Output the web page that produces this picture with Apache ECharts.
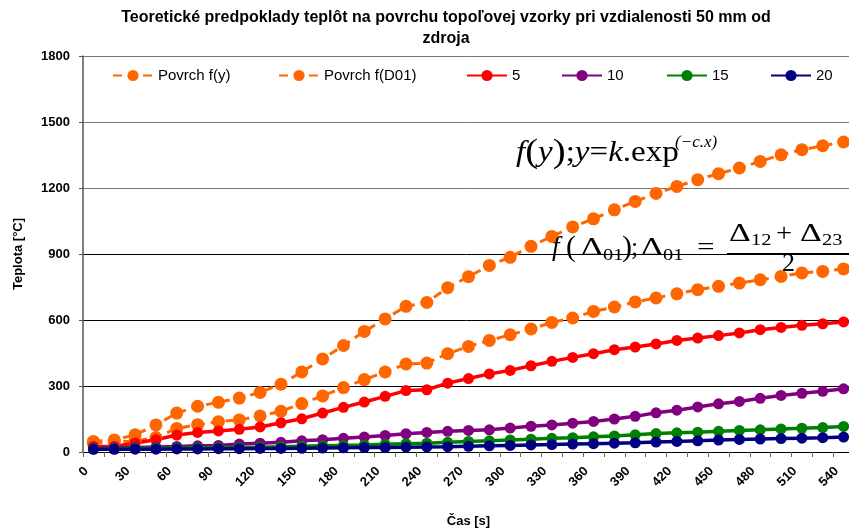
<!DOCTYPE html>
<html>
<head>
<meta charset="utf-8">
<script src="https://cdn.jsdelivr.net/npm/echarts@6/dist/echarts.min.js"></script>
<style>
html, body { margin: 0; padding: 0; background: #fff; }
#chart { width: 849px; height: 529px; }
</style>
</head>
<body>
<div id="chart"></div>
<script>
// Time steps [s]
const times = ['0','15','30','45','60','75','90','105','120','135','150','165','180','195','210','225','240','255','270','285','300','315','330','345','360','375','390','405','420','435','450','465','480','495','510','525','540'];

// Surface temperature, f(y) fit [°C]
const povrchFy = [48,55,78,123,177,208,226,245,271,308,364,423,484,548,605,662,680,747,797,848,885,935,980,1023,1060,1101,1139,1175,1207,1238,1265,1291,1321,1351,1374,1392,1409];
// Surface temperature, f(D01) estimate [°C]
const povrchFD01 = [40,45,50,66,107,124,138,146,164,185,220,255,293,329,364,400,404,447,480,507,533,559,589,609,639,659,682,700,719,738,753,768,783,798,814,821,832];
// Measured temperatures at depths 5, 10, 15, 20 mm [°C]
const depth5 = [25,25,41,56,77,89,96,103,114,133,151,177,203,227,253,279,283,313,334,355,371,392,412,430,447,465,477,491,507,518,529,541,556,566,576,583,591];
const depth10 = [18,19,21,23,25,28,30,36,40,44,51,56,62,68,75,83,89,94,98,101,109,117,123,131,139,150,162,178,190,205,219,230,244,257,267,276,287];
const depth15 = [14,15,16,17,18,19,20,21,22,24,26,28,30,32,35,38,40,44,48,51,55,58,62,65,69,73,78,84,87,90,94,98,101,105,108,111,116];
const depth20 = [12,12,13,13,14,14,15,15,16,16,17,18,19,20,21,22,23,24,26,28,30,32,34,36,38,40,42,45,48,51,54,57,59,61,63,65,68];

// Y axis ticks
const yMin = 0, yMax = 1800, yStep = 300;

const seriesNames = ['Povrch f(y)', 'Povrch f(D01)', '5', '10', '15', '20'];
const seriesData = [povrchFy, povrchFD01, depth5, depth10, depth15, depth20];
const seriesColors = ['#FF6600', '#FF6600', '#FF0000', '#800080', '#008000', '#000080'];

const SANS = '"Liberation Sans", Arial, sans-serif';
const SERIF = '"Liberation Serif", "Times New Roman", serif';

const chart = echarts.init(document.getElementById('chart'), null, { renderer: 'canvas' });

const series = seriesNames.map((name, i) => {
  const dashed = i < 2;
  return {
    name: name,
    type: 'line',
    data: seriesData[i],
    symbol: 'circle',
    symbolSize: dashed ? 13 : 11,
    showSymbol: true,
    lineStyle: { color: seriesColors[i], width: dashed ? 3 : 3.5, type: dashed ? [9, 6] : 'solid' },
    itemStyle: { color: seriesColors[i], borderWidth: 0 },
    emphasis: { disabled: true },
    animation: false
  };
});

// Legend entries placed in one row across the top of the plot
const legendLefts = [112, 278, 466, 561, 666, 770];
const legends = seriesNames.map((name, i) => ({
  data: [name],
  left: legendLefts[i],
  top: 68,
  padding: 0,
  itemWidth: 40,
  itemHeight: 14,
  itemGap: 0,
  textStyle: { fontFamily: SANS, fontSize: 15, color: '#000' },
  selectedMode: false
}));

// Formula annotations
function txt(x, y, text, size, opts) {
  opts = opts || {};
  return {
    type: 'text', x: x, y: y, z: 50,
    scaleX: opts.sx || 1,
    style: {
      text: text,
      font: (opts.italic ? 'italic ' : '') + size + 'px ' + SERIF,
      fill: '#000',
      align: 'left',
      verticalAlign: 'middle'
    }
  };
}
const graphics = [
  // f(y); y = k.exp^(-c.x)
  {
    type: 'text', x: 516, y: 153, z: 50, scaleX: 1.14,
    style: {
      text: '{i|f}{p|(}{i|y}{p|)}{n|;}{i|y}{n|=}{i|k}{n|.exp}',
      fill: '#000', align: 'left', verticalAlign: 'middle',
      rich: {
        i: { fontFamily: SERIF, fontSize: 29, fontStyle: 'italic', fill: '#000' },
        n: { fontFamily: SERIF, fontSize: 29, fill: '#000' },
        p: { fontFamily: SERIF, fontSize: 34, fill: '#000' }
      }
    }
  },
  txt(675, 143, '(\u2212c.x)', 17, { italic: true }),
  // f(Δ01); Δ01 = (Δ12 + Δ23) / 2
  txt(552, 248, 'f', 27, { italic: true }),
  txt(566, 248, '(', 30),
  txt(581, 248, '\u0394', 26, { sx: 1.3 }),
  txt(603, 256, '01', 17, { sx: 1.2 }),
  txt(622, 248, ')', 30),
  txt(631, 248, ';', 26),
  txt(641, 248, '\u0394', 26, { sx: 1.3 }),
  txt(663, 256, '01', 17, { sx: 1.2 }),
  txt(697, 248, '=', 26, { sx: 1.2 }),
  txt(729, 234, '\u0394', 26, { sx: 1.3 }),
  txt(751, 241, '12', 17, { sx: 1.2 }),
  txt(776, 234, '+', 26, { sx: 1.1 }),
  txt(800, 234, '\u0394', 26, { sx: 1.3 }),
  txt(822, 241, '23', 17, { sx: 1.2 }),
  { type: 'line', z: 50, shape: { x1: 727, y1: 253.5, x2: 849, y2: 253.5 }, style: { stroke: '#000', lineWidth: 1 } },
  txt(782, 264, '2', 26)
];

const option = {
  animation: false,
  backgroundColor: '#fff',
  title: {
    text: 'Teoretické predpoklady teplôt na povrchu topoľovej vzorky pri vzdialenosti 50 mm od\nzdroja',
    left: 446,
    textAlign: 'center',
    top: 7,
    padding: 0,
    textStyle: { fontFamily: SANS, fontSize: 16, fontWeight: 'bold', color: '#000', lineHeight: 21 }
  },
  legend: legends,
  grid: { left: 83, top: 56, width: 771, height: 396, containLabel: false, outerBoundsMode: 'none' },
  xAxis: {
    type: 'category',
    data: times,
    boundaryGap: true,
    name: 'Čas [s]',
    nameLocation: 'middle',
    nameGap: 63,
    nameTextStyle: { fontFamily: SANS, fontSize: 13, fontWeight: 'bold', color: '#000' },
    axisLine: { show: true, lineStyle: { color: '#000', width: 1 } },
    axisTick: { show: true, interval: 0, length: 5, lineStyle: { color: '#666' } },
    axisLabel: { interval: 1, rotate: 45, margin: 10, padding: [0, 10, 0, 0], fontFamily: SANS, fontSize: 13, fontWeight: 'bold', color: '#000' },
    splitLine: { show: false }
  },
  yAxis: {
    type: 'value',
    min: yMin,
    max: yMax,
    interval: yStep,
    name: 'Teplota [°C]',
    nameLocation: 'middle',
    nameRotate: 90,
    nameGap: 58,
    nameTextStyle: { fontFamily: SANS, fontSize: 13, fontWeight: 'bold', color: '#000' },
    axisLine: { show: true, lineStyle: { color: '#555', width: 1.5 } },
    axisTick: { show: true, length: 4, lineStyle: { color: '#555' } },
    axisLabel: { margin: 13, fontFamily: SANS, fontSize: 13, fontWeight: 'bold', color: '#000', formatter: v => String(v) },
    splitLine: { show: true, lineStyle: { color: ['#000', '#000', '#000', '#000', '#777', '#777', '#777'], width: 1 } }
  },
  series: series,
  graphic: graphics
};

chart.setOption(option);
</script>
</body>
</html>
